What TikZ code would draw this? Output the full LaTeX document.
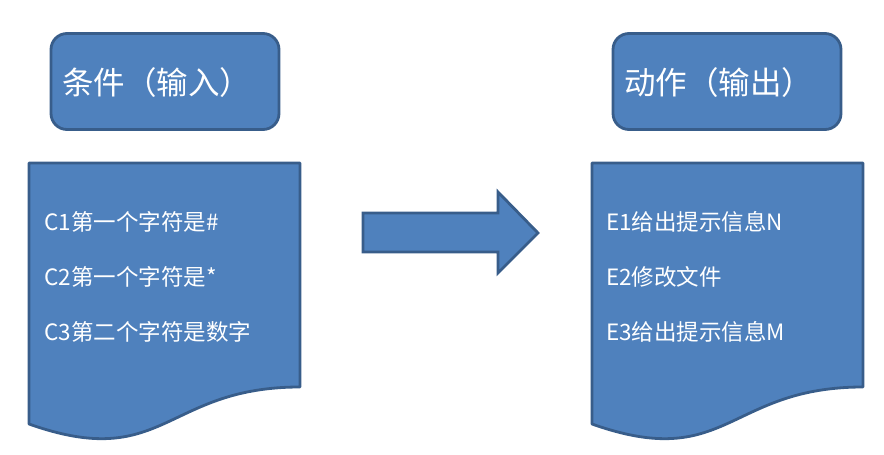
\documentclass[tikz,border=0pt]{standalone}
\usepackage{fontspec}
\setmainfont{Noto Sans CJK SC}
\definecolor{fillb}{HTML}{4F81BD}
\definecolor{lineb}{HTML}{385D8A}
\begin{document}
\begin{tikzpicture}[x=1pt,y=-1pt,
  shapestyle/.style={fill=fillb,draw=lineb,line width=2.8pt,line join=round},
  titlebox/.style={shapestyle,rounded corners=16pt,minimum width=228pt,minimum height=96pt,inner sep=0pt},
  titletext/.style={text=white,font=\fontsize{31.5}{36}\selectfont,anchor=west,inner sep=0pt},
  item/.style={text=white,font=\fontsize{22.5}{26}\selectfont,anchor=west,inner sep=0pt}]
\useasboundingbox (0,0) rectangle (884,455);
% title boxes
\node[titlebox] (condbox) at (165,81.5) {};
\node[titletext] (condtitle) at (62,83) {条件（输入）};
\node[titlebox] (actbox) at (727,81.5) {};
\node[titletext] (acttitle) at (624,83) {动作（输出）};
% document shapes
\draw[shapestyle] (29,163) -- (300,163) -- (300,387)
  .. controls (164.5,387) and (164.5,472) .. (29,424) -- cycle;
\draw[shapestyle] (592,163) -- (863,163) -- (863,387)
  .. controls (727.5,387) and (727.5,472) .. (592,424) -- cycle;
% items
\node[item] (c1) at (44,222) {C1第一个字符是\#};
\node[item] (c2) at (44,277) {C2第一个字符是*};
\node[item] (c3) at (44,332) {C3第二个字符是数字};
\node[item] (e1) at (606,222) {E1给出提示信息N};
\node[item] (e2) at (606,277) {E2修改文件};
\node[item] (e3) at (606,332) {E3给出提示信息M};
% block arrow
\draw[shapestyle,line join=miter] (363,213) -- (498,213) -- (498,192) -- (538,233)
  -- (498,273) -- (498,252) -- (363,252) -- cycle;
\end{tikzpicture}
\end{document}
